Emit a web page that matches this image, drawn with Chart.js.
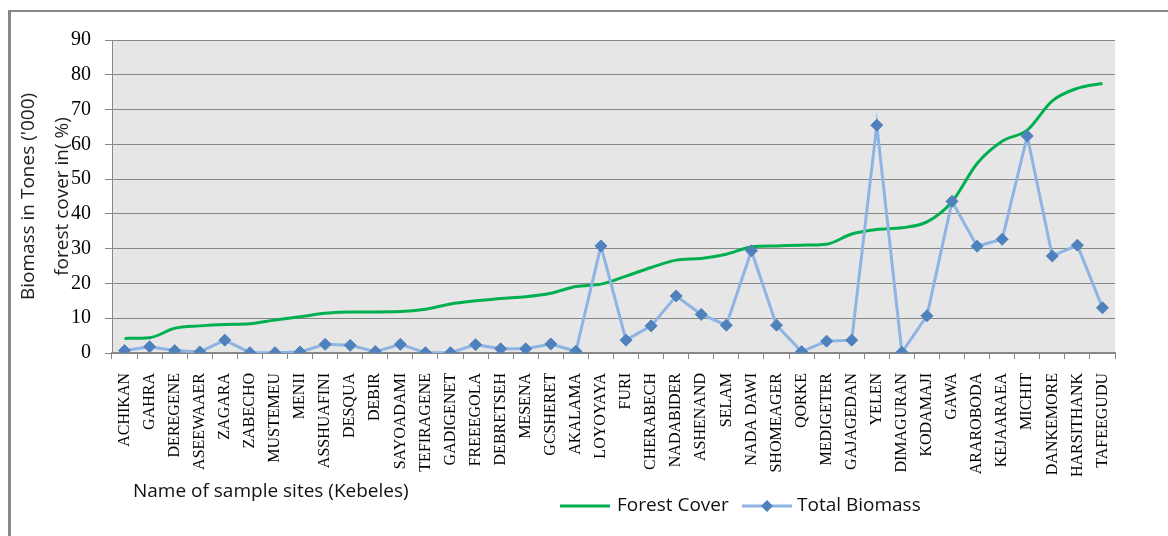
<!DOCTYPE html>
<html>
<head>
<meta charset="utf-8">
<script src="https://cdn.jsdelivr.net/npm/chart.js@4/dist/chart.umd.min.js"></script>
<style>
  body { margin: 0; background: #fff; }
  #wrap { position: relative; width: 1168px; height: 536px; }
  #frame { position: absolute; left: 8px; top: 10px; right: 0; bottom: 0;
           border-left: 3px solid #888; border-top: 2px solid #888; }
  canvas { position: absolute; left: 0; top: 0; }
</style>
</head>
<body>
<div id="wrap">
  <div id="frame"></div>
  <canvas id="myChart" width="1168" height="536"></canvas>
</div>
<script>
// sample sites (Kebeles), ordered by forest cover
var sites = ["ACHIKAN", "GAHRA", "DEREGENE", "ASEEWAAER", "ZAGARA", "ZABECHO", "MUSTEMEU", "MENII",
  "ASSHUAFINI", "DESQUA", "DEBIR", "SAYOADAMI", "TEFIRAGENE", "GADIGENET", "FREEEGOLA", "DEBRETSEH",
  "MESENA", "GCSHERET", "AKALAMA", "LOYOYAYA", "FURI", "CHERABECH", "NADABIDER", "ASHENAND", "SELAM",
  "NADA DAWI", "SHOMEAGER", "QORKE", "MEDIGETER", "GAJAGEDAN", "YELEN", "DIMAGURAN", "KODAMAJI",
  "GAWA", "ARAROBODA", "KEJAARAEA", "MICHIT", "DANKEMORE", "HARSITHANK", "TAFEEGUDU"];

var forestCover = [4.2, 4.4, 7.1, 7.8, 8.2, 8.4, 9.5, 10.4, 11.4, 11.8, 11.8, 11.9, 12.6, 14.1, 15.0, 15.7,
  16.2, 17.2, 19.1, 19.8, 22.1, 24.6, 26.7, 27.2, 28.4, 30.5, 30.8, 31.0, 31.3, 34.2, 35.5, 36.0, 37.7,
  43.5, 54.5, 60.9, 64.1, 72.5, 76.1, 77.5];

var totalBiomass = [0.7, 1.8, 0.7, 0.3, 3.7, 0.1, 0.1, 0.3, 2.5, 2.2, 0.4, 2.5, 0.1, 0.1, 2.4, 1.2,
  1.2, 2.6, 0.5, 30.8, 3.7, 7.8, 16.4, 11.1, 8.0, 29.4, 8.0, 0.4, 3.4, 3.7, 65.5, 0.2, 10.7,
  43.6, 30.7, 32.7, 62.4, 27.9, 31.0, 13.0];

var yTicks = [0, 10, 20, 30, 40, 50, 60, 70, 80, 90];

var GREEN = "#00B050";
var BLUE_LINE = "#8DB4E2";
var BLUE_MARK = "#4F81BD";
var sansFont = "'Open Sans', sans-serif";

// plot background + x title + legend
const extras = {
  id: "extras",
  beforeDraw(chart) {
    const a = chart.chartArea, ctx = chart.ctx;
    ctx.save();
    ctx.fillStyle = "#e6e6e6";
    ctx.fillRect(a.left, a.top, a.right - a.left, a.bottom - a.top);
    ctx.restore();
  },
  afterDraw(chart) {
    const ctx = chart.ctx;
    ctx.save();
    ctx.font = "19px " + sansFont;
    ctx.fillStyle = "#111";
    ctx.textBaseline = "middle";
    ctx.fillText("Name of sample sites (Kebeles)", 133, 492);

    // legend
    var ly = 506;
    ctx.lineWidth = 3;
    ctx.strokeStyle = GREEN;
    ctx.beginPath(); ctx.moveTo(560, ly); ctx.lineTo(610, ly); ctx.stroke();
    ctx.fillText("Forest Cover", 617, ly);
    ctx.strokeStyle = BLUE_LINE;
    ctx.beginPath(); ctx.moveTo(742, ly); ctx.lineTo(792, ly); ctx.stroke();
    ctx.fillStyle = BLUE_MARK;
    ctx.beginPath();
    ctx.moveTo(767, ly - 6); ctx.lineTo(773, ly); ctx.lineTo(767, ly + 6); ctx.lineTo(761, ly);
    ctx.closePath(); ctx.fill();
    ctx.fillStyle = "#111";
    ctx.fillText("Total Biomass", 797, ly);
    ctx.restore();
  }
};

let myChart = document.getElementById("myChart").getContext("2d");
new Chart(myChart, {
  type: "line",
  data: {
    labels: sites,
    datasets: [{
      label: "Total Biomass",
      data: totalBiomass,
      borderColor: BLUE_LINE,
      borderWidth: 3,
      pointStyle: "rectRot",
      pointRadius: 6,
      pointBackgroundColor: BLUE_MARK,
      pointBorderColor: BLUE_MARK,
      pointBorderWidth: 1,
      tension: 0,
      order: 1
    }, {
      label: "Forest Cover",
      data: forestCover,
      borderColor: GREEN,
      borderWidth: 3,
      pointRadius: 0,
      cubicInterpolationMode: "monotone",
      order: 2
    }]
  },
  options: {
    responsive: false,
    animation: false,
    layout: { padding: { left: 0, right: 53, top: 40, bottom: 0 } },
    plugins: { legend: { display: false }, tooltip: { enabled: false } },
    scales: {
      x: {
        offset: true,
        grid: { offset: true, drawOnChartArea: false, drawTicks: true, tickLength: 6, color: "#888" },
        border: { color: "#888", width: 2 },
        ticks: {
          autoSkip: false, maxRotation: 90, minRotation: 90, padding: 14,
          color: "#000", font: { family: "'Liberation Serif', serif", size: 16 }
        },
        afterFit(scale) { scale.height = 183; }
      },
      y: {
        min: 0, max: 90,
        afterBuildTicks(scale) { scale.ticks = yTicks.map(v => ({ value: v })); },
        grid: { color: "#868686", lineWidth: 1, tickLength: 7 },
        border: { color: "#888", width: 1 },
        ticks: {
          padding: 14, color: "#000",
          font: { family: "'Liberation Serif', serif", size: 20 }
        },
        title: {
          display: true,
          text: ["Biomass in Tones ('000)", "forest cover in( %)"],
          color: "#222",
          font: { family: sansFont, size: 19, lineHeight: 1.8 },
          padding: { top: 11, bottom: 0 }
        },
        afterFit(scale) { scale.width = 112; }
      }
    }
  },
  plugins: [extras]
});
</script>
</body>
</html>
